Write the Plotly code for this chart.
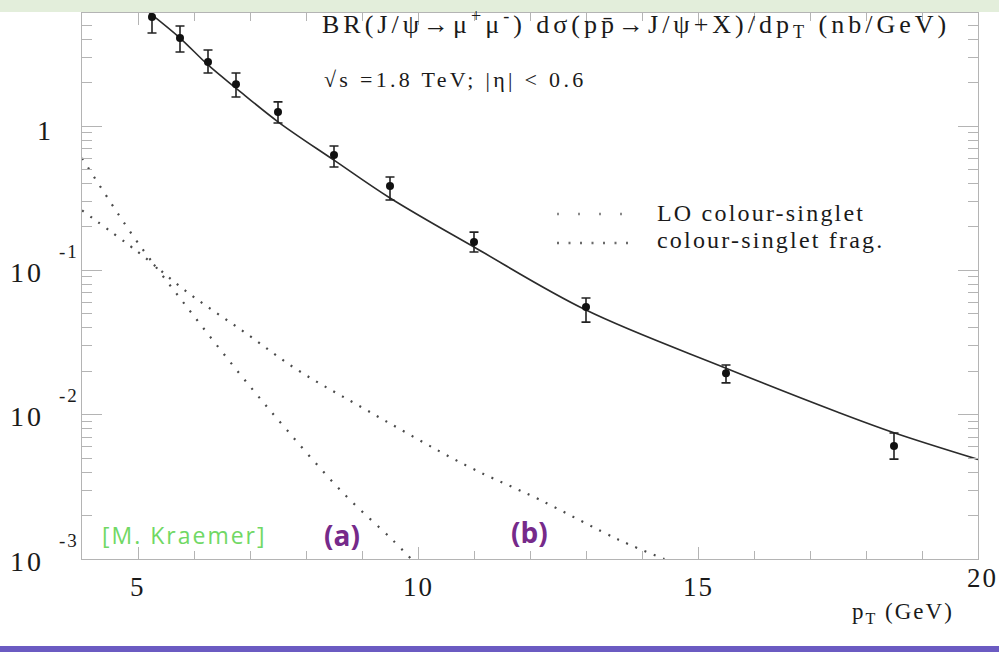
import math
import plotly.graph_objects as go

# ---------------- data ----------------
# measured points (pT in GeV, BR*dsigma/dpT in nb/GeV)
pt_data = [5.25, 5.75, 6.25, 6.75, 7.5, 8.5, 9.5, 11.0, 13.0, 15.5, 18.5]
y_data = [5.7, 4.07, 2.78, 1.95, 1.25, 0.63, 0.384, 0.157, 0.0557, 0.0194, 0.00606]
y_hi = [6.3, 4.93, 3.36, 2.33, 1.47, 0.727, 0.443, 0.184, 0.0643, 0.0221, 0.00746]
y_lo = [4.41, 3.26, 2.33, 1.59, 1.05, 0.52, 0.307, 0.134, 0.0438, 0.0166, 0.00492]

# total theory curve (solid)
fit_pt = [5.2, 5.75, 6.25, 6.75, 7.5, 8.5, 9.5, 11.0, 13.0, 15.5, 17.5, 18.5, 20.0]
fit_y = [6.1, 4.07, 2.65, 1.83, 1.07, 0.58, 0.317, 0.145, 0.0531, 0.021, 0.0104, 0.0075, 0.0049]

# (a) LO colour-singlet
lo_pt = [4.0, 4.5, 5.0, 5.9, 6.85, 7.65, 8.65, 9.55, 9.9]
lo_y = [0.60, 0.30, 0.155, 0.054, 0.0185, 0.0079, 0.0029, 0.00135, 0.00098]

# (b) colour-singlet fragmentation
fr_pt = [4.0, 5.0, 5.9, 6.9, 7.85, 8.9, 10.85, 12.15, 13.6, 14.4]
fr_y = [0.26, 0.134, 0.0697, 0.0373, 0.0204, 0.0118, 0.00447, 0.0026, 0.00135, 0.00100]

x_tickvals = [5, 10, 15, 20]
x_ticktext = ["5", "10", "15", "20"]
y_tickvals = [1, 0.1, 0.01, 0.001]
y_tickbase = ["1", "10", "10", "10"]
y_tickexp = ["", "-1", "-2", "-3"]

legend_names = ["LO colour-singlet", "colour-singlet frag."]
title_line1 = ("BR(J/\u03c8\u2192\u03bc<sup>+</sup>\u03bc<sup>-</sup>) "
               "d\u03c3(pp\u0304\u2192J/\u03c8+X)/dp<sub>T</sub> (nb/GeV)")
title_line2 = "\u221as =1.8 TeV; |\u03b7| < 0.6"

# ---------------- layout geometry ----------------
W, H = 999, 652
L, R, T, B = 82, 978, 13, 559


def px(x):
    return (x - L) / (R - L)


def py(y):
    return (B - y) / (B - T)


SERIF = "Liberation Serif"
INK = "#1a1a1a"


def ls(text, sp):
    return '<span style="letter-spacing:%spx">%s</span>' % (sp, text)


fig = go.Figure()

dot_color = "#4a4a4a"
fig.add_trace(go.Scatter(x=lo_pt, y=lo_y, mode="lines", line_shape="spline",
                         line=dict(color=dot_color, width=2.2, dash="2px,9px"),
                         name=legend_names[0], showlegend=False))
fig.add_trace(go.Scatter(x=fr_pt, y=fr_y, mode="lines", line_shape="spline",
                         line=dict(color=dot_color, width=2.2, dash="2px,8px"),
                         name=legend_names[1], showlegend=False))
fig.add_trace(go.Scatter(x=fit_pt, y=fit_y, mode="lines", line_shape="spline",
                         line=dict(color="#2b2b2b", width=1.6),
                         showlegend=False))
fig.add_trace(go.Scatter(
    x=pt_data, y=y_data, mode="markers",
    marker=dict(color="#111111", size=8, symbol="circle"),
    error_y=dict(type="data", symmetric=False,
                 array=[h - v for h, v in zip(y_hi, y_data)],
                 arrayminus=[v - l for v, l in zip(y_data, y_lo)],
                 color="#222222", thickness=1.6, width=4.5),
    showlegend=False))

axis_col = "#b4b4b4"
fig.update_xaxes(range=[4, 20], showgrid=False, zeroline=False,
                 showline=True, linecolor=axis_col, linewidth=1.3, mirror="ticks",
                 tickmode="array", tickvals=x_tickvals, ticks="inside",
                 ticklen=12, tickcolor=axis_col, tickwidth=1.2,
                 showticklabels=False,
                 minor=dict(ticks="inside", ticklen=8, tickcolor=axis_col,
                            dtick=1, tick0=0, showgrid=False))
fig.update_yaxes(type="log", range=[-3, 0.783], showgrid=False, zeroline=False,
                 showline=True, linecolor=axis_col, linewidth=1.3, mirror="ticks",
                 dtick=1, ticks="inside", ticklen=20, tickcolor=axis_col,
                 tickwidth=1.2, showticklabels=False,
                 minor=dict(ticks="inside", ticklen=10, tickcolor=axis_col,
                            dtick="D1", showgrid=False))

annotations = []
# y tick labels
for v, base, ex in zip(y_tickvals, y_tickbase, y_tickexp):
    if ex == "":
        annotations.append(dict(xref="paper", yref="y", x=px(53), y=math.log10(v),
                                yshift=-4, xanchor="right", yanchor="middle",
                                text=base, showarrow=False,
                                font=dict(family=SERIF, size=28, color=INK)))
    else:
        annotations.append(dict(xref="paper", yref="y", x=px(46), y=math.log10(v),
                                yshift=-2, xanchor="right", yanchor="middle",
                                text=ls(base, 3), showarrow=False,
                                font=dict(family=SERIF, size=28, color=INK)))
        annotations.append(dict(xref="paper", yref="y", x=px(57), y=math.log10(v),
                                yshift=19, xanchor="left", yanchor="middle",
                                text=ls(ex, 2), showarrow=False,
                                font=dict(family=SERIF, size=19, color=INK)))
# x tick labels
for v, t in zip(x_tickvals, x_ticktext):
    last = (v == x_tickvals[-1])
    annotations.append(dict(xref="x", yref="paper", x=v, y=py(587 if not last else 578),
                            xshift=(4 if last else 0),
                            xanchor="center", yanchor="middle",
                            text=ls(t, 2), showarrow=False,
                            font=dict(family=SERIF, size=27, color=INK)))
# x-axis title
annotations.append(dict(xref="paper", yref="paper", x=px(850), y=py(613),
                        xanchor="left", yanchor="middle",
                        text=ls("p<sub>T</sub> (GeV)", 2), showarrow=False,
                        font=dict(family=SERIF, size=23, color=INK)))
# header texts
annotations.append(dict(xref="paper", yref="paper", x=px(320), y=py(24),
                        xanchor="left", yanchor="middle",
                        text=ls(title_line1, 4.0), showarrow=False,
                        font=dict(family=SERIF, size=26, color=INK)))
annotations.append(dict(xref="paper", yref="paper", x=px(322), y=py(79),
                        xanchor="left", yanchor="middle",
                        text=ls(title_line2, 3.3), showarrow=False,
                        font=dict(family=SERIF, size=22, color=INK)))
# legend texts
for name, yc in zip(legend_names, [213, 240]):
    annotations.append(dict(xref="paper", yref="paper", x=px(655), y=py(yc),
                            xanchor="left", yanchor="middle",
                            text=ls(name, 2.2), showarrow=False,
                            font=dict(family=SERIF, size=24, color=INK)))
# curve labels
annotations.append(dict(xref="paper", yref="paper", x=px(100), y=py(535),
                        xanchor="left", yanchor="middle",
                        text=ls("[M. Kraemer]", 2), showarrow=False,
                        font=dict(family="Open Sans", size=23,
                                  color="#70d864")))
annotations.append(dict(xref="paper", yref="paper", x=px(342), y=py(535),
                        xanchor="center", yanchor="middle",
                        text="<b>(a)</b>", showarrow=False,
                        font=dict(family="Open Sans", size=28,
                                  color="#762a8a")))
annotations.append(dict(xref="paper", yref="paper", x=px(529), y=py(532),
                        xanchor="center", yanchor="middle",
                        text="<b>(b)</b>", showarrow=False,
                        font=dict(family="Open Sans", size=28,
                                  color="#762a8a")))

shapes = [
    # top slide band
    dict(type="rect", xref="paper", yref="paper", x0=px(0), x1=px(W),
         y0=py(0), y1=py(12), fillcolor="#e3eedb", line=dict(width=0), layer="above"),
    # bottom slide band
    dict(type="rect", xref="paper", yref="paper", x0=px(0), x1=px(W),
         y0=py(646), y1=py(H), fillcolor="#6b5bc2", line=dict(width=0), layer="above"),
    # legend samples
    dict(type="line", xref="paper", yref="paper", x0=px(557), x1=px(622),
         y0=py(214), y1=py(214), line=dict(color="#8a8a8a", width=2.4, dash="2px,19px")),
    dict(type="line", xref="paper", yref="paper", x0=px(557), x1=px(630),
         y0=py(243), y1=py(243), line=dict(color="#6a6a6a", width=2.4, dash="2px,9.5px")),
]

fig.update_layout(width=W, height=H, autosize=False,
                  margin=dict(l=L, r=W - R, t=T, b=H - B, pad=0),
                  paper_bgcolor="white", plot_bgcolor="white",
                  annotations=annotations, shapes=shapes, showlegend=False)

fig.write_html("out.html")
